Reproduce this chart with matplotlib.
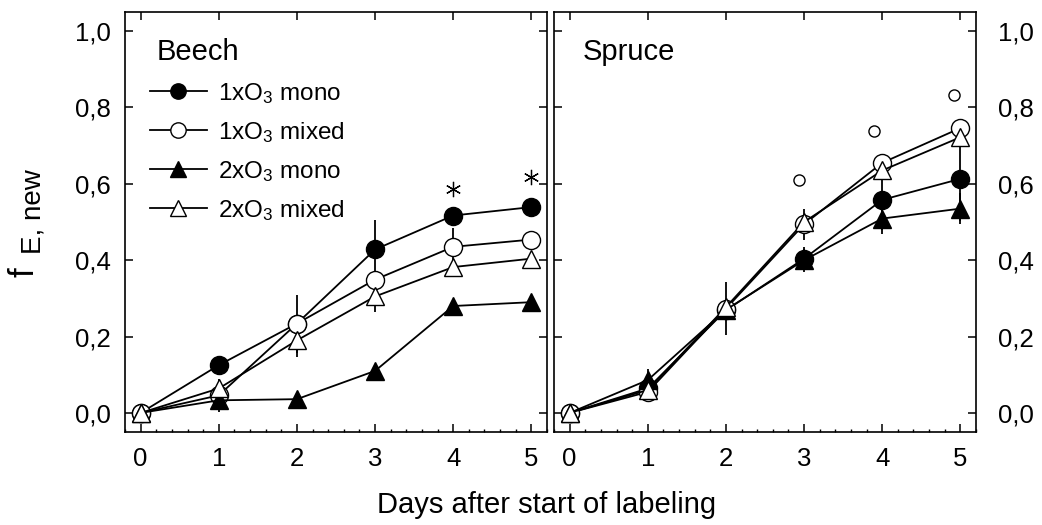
import matplotlib
matplotlib.use("Agg")
import matplotlib.pyplot as plt
from matplotlib.ticker import MultipleLocator, FixedLocator

plt.rcParams["font.family"] = ["Liberation Sans", "DejaVu Sans"]
plt.rcParams["mathtext.fontset"] = "custom"
plt.rcParams["mathtext.rm"] = "Liberation Sans"
plt.rcParams["mathtext.it"] = "Liberation Sans:italic"

# Data
days = [0, 1, 2, 3, 4, 5]
labels = [r"1xO$_\mathrm{3}$ mono", r"1xO$_\mathrm{3}$ mixed",
          r"2xO$_\mathrm{3}$ mono", r"2xO$_\mathrm{3}$ mixed"]

beech_1x_mono = [0.0, 0.125, 0.234, 0.428, 0.517, 0.539]
beech_1x_mixed = [0.0, 0.046, 0.234, 0.349, 0.435, 0.454]
beech_2x_mono = [0.0, 0.033, 0.036, 0.110, 0.280, 0.290]
beech_2x_mixed = [0.0, 0.064, 0.190, 0.305, 0.382, 0.404]

beech_1x_mono_err = [0.0, 0.0, 0.0, 0.076, 0.0, 0.0]
beech_1x_mixed_err = [0.0, 0.0, 0.076, 0.0, 0.05, 0.0]
beech_2x_mono_err = [0.0, 0.03, 0.0, 0.0, 0.0, 0.0]
beech_2x_mixed_err = [0.0, 0.026, 0.044, 0.04, 0.0, 0.0]

spruce_1x_mono = [0.0, 0.064, 0.269, 0.404, 0.558, 0.613]
spruce_1x_mixed = [0.0, 0.055, 0.273, 0.494, 0.655, 0.746]
spruce_2x_mono = [0.0, 0.086, 0.270, 0.400, 0.509, 0.535]
spruce_2x_mixed = [0.0, 0.060, 0.277, 0.500, 0.635, 0.722]

spruce_1x_mono_err = [0.0, 0.0, 0.0, 0.03, 0.09, 0.11]
spruce_1x_mixed_err = [0.0, 0.0, 0.07, 0.04, 0.0, 0.0]
spruce_2x_mono_err = [0.0, 0.03, 0.0, 0.03, 0.03, 0.04]
spruce_2x_mixed_err = [0.0, 0.0, 0.0, 0.0, 0.0, 0.0]

# significance marks
beech_star_x = [4, 5]
beech_star_y = [0.587, 0.618]
spruce_sig_x = [2.94, 3.9, 4.92]
spruce_sig_y = [0.609, 0.738, 0.833]

styles = [
    dict(marker="o", mfc="black"),
    dict(marker="o", mfc="white"),
    dict(marker="^", mfc="black"),
    dict(marker="^", mfc="white"),
]

fig = plt.figure(figsize=(10.42, 5.25), dpi=100)
ax1 = fig.add_axes([125 / 1042, 93 / 525, 422 / 1042, 420 / 525])
ax2 = fig.add_axes([554 / 1042, 93 / 525, 422 / 1042, 420 / 525])


def draw_panel(ax, series, errs):
    handles = []
    for vals, err, st, lab in zip(series, errs, styles, labels):
        ax.errorbar(days, vals, yerr=err, fmt="none", ecolor="black",
                    elinewidth=1.3, capsize=0, zorder=2)
        h, = ax.plot(days, vals, color="black", lw=1.3, marker=st["marker"],
                     mfc=st["mfc"], mec="black", mew=1.0, ms=13,
                     label=lab, zorder=3)
        handles.append(h)
    ax.set_xlim(-0.2, 5.2)
    ax.set_ylim(-0.05, 1.05)
    ax.xaxis.set_major_locator(FixedLocator(days))
    ax.xaxis.set_minor_locator(MultipleLocator(0.2))
    ax.yaxis.set_major_locator(MultipleLocator(0.2))
    ax.tick_params(which="major", direction="in", length=6, width=1.1,
                   top=True, right=True, labelsize=18.5)
    ax.tick_params(which="minor", direction="in", length=2.5, width=1.0,
                   top=False, bottom=True)
    ax.tick_params(axis="x", pad=11)
    for sp in ax.spines.values():
        sp.set_linewidth(1.2)
    return handles


handles = draw_panel(ax1, [beech_1x_mono, beech_1x_mixed, beech_2x_mono, beech_2x_mixed],
                     [beech_1x_mono_err, beech_1x_mixed_err, beech_2x_mono_err, beech_2x_mixed_err])
draw_panel(ax2, [spruce_1x_mono, spruce_1x_mixed, spruce_2x_mono, spruce_2x_mixed],
           [spruce_1x_mono_err, spruce_1x_mixed_err, spruce_2x_mono_err, spruce_2x_mixed_err])

fmt = lambda v, pos: f"{v:.1f}".replace(".", ",")
ax1.yaxis.set_major_formatter(fmt)
ax1.tick_params(axis="y", pad=10)
ax2.yaxis.set_major_formatter(fmt)
ax2.tick_params(axis="y", labelleft=False, labelright=True, pad=16)

ax1.plot(beech_star_x, beech_star_y, ls="none", marker=(6, 2, 0), ms=11,
         mec="black", mew=0.9, zorder=4)
ax2.plot(spruce_sig_x, spruce_sig_y, ls="none", marker="o", ms=8,
         mfc="white", mec="black", mew=1.0, zorder=4)

ax1.text(32 / 422, (432 - 60) / 420, "Beech", transform=ax1.transAxes,
         fontsize=21, va="baseline")
ax2.text(29 / 422, (432 - 60) / 420, "Spruce", transform=ax2.transAxes,
         fontsize=21, va="baseline")

ax1.legend(handles=handles, loc="upper left", bbox_to_anchor=(0.018, 0.877),
           frameon=False, fontsize=17.5, handlelength=2.35, handletextpad=0.45,
           labelspacing=0.58, markerscale=0.85, borderaxespad=0.3)

fig.text(24 / 1042, 1 - 272 / 525, "f", rotation=90, fontsize=25,
         ha="center", va="center")
fig.text(33 / 1042, 1 - 212 / 525, "E, new", rotation=90, fontsize=20,
         ha="center", va="center")
fig.text(547 / 1042, 1 - 505 / 525, "Days after start of labeling",
         fontsize=21, ha="center", va="center")

fig.savefig("out.png", dpi=100)
